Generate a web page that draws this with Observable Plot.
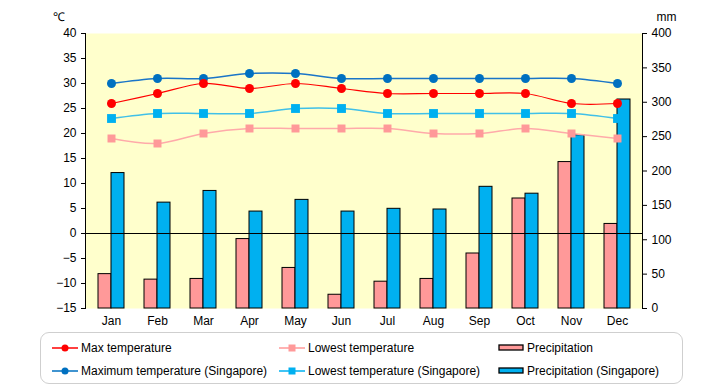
<!DOCTYPE html>
<html><head><meta charset="utf-8">
<script src="https://cdn.jsdelivr.net/npm/d3@7"></script>
<script src="https://cdn.jsdelivr.net/npm/@observablehq/plot@0.6"></script>
<style>
body{margin:0;background:#fff;font-family:"Liberation Sans",Arial,sans-serif;}
#wrap{position:relative;width:720px;height:385px;}
#legend{position:absolute;left:40px;top:332px;width:643px;height:52px;border:1.5px solid #cfcfcf;border-radius:9px;box-sizing:border-box;font-size:12px;color:#000;}
.li{position:absolute;display:flex;align-items:center;height:16px;white-space:nowrap;}
.li svg{margin-right:3px;}
</style></head>
<body><div id="wrap"><div id="chart"></div><div id="legend"></div></div>
<script>
const months = ["Jan","Feb","Mar","Apr","May","Jun","Jul","Aug","Sep","Oct","Nov","Dec"];
const maxTemp = [26,28,30,29,30,29,28,28,28,28,26,26];
const minTemp = [19,18,20,21,21,21,21,20,20,21,20,19];
const precip = [50,42,43,101,59,20,39,43,80,160,213,123];
const sgMaxTemp = [30,31,31,32,32,31,31,31,31,31,31,30];
const sgMinTemp = [23,24,24,24,25,25,24,24,24,24,24,23];
const sgPrecip = [197,154,171,141,158,141,145,144,177,167,252,304];
const tempTicks = [-15,-10,-5,0,5,10,15,20,25,30,35,40];
const precipTicks = [0,50,100,150,200,250,300,350,400];

const toT = p => -15 + p * 55 / 400;
const fromT = t => Math.round((t + 15) * 400 / 55);

const rows = months.map((m, i) => ({m, max: maxTemp[i], min: minTemp[i], p: precip[i], smax: sgMaxTemp[i], smin: sgMinTemp[i], sp: sgPrecip[i]}));

const C = {max:"#ff0000", min:"#ff9999", minLine:"#ffaaaa", sp:"#00b0f0", smax:"#0070c0", smaxLine:"#1a75c8", smin:"#00b0f0", sminLine:"#40c0e8"};
const curve = "catmull-rom";

const chart = Plot.plot({
  width: 720, height: 330,
  marginLeft: 85, marginRight: 78, marginTop: 33, marginBottom: 22,
  style: {fontFamily: "Liberation Sans, Arial, sans-serif", fontSize: "12px", color: "#000", background: "transparent"},
  x: {type: "band", domain: months, paddingInner: 0.44, paddingOuter: 0.2, label: null},
  y: {domain: [-15, 40], label: null},
  marks: [
    Plot.frame({fill: "#ffffcc"}),
    Plot.barY(rows, {x: "m", y1: -15, y2: d => toT(d.p), fill: C.min, stroke: "#000", strokeWidth: 1, insetRight: 13}),
    Plot.barY(rows, {x: "m", y1: -15, y2: d => toT(d.sp), fill: C.sp, stroke: "#000", strokeWidth: 1, insetLeft: 13}),
    Plot.ruleY([0], {stroke: "#000", strokeWidth: 1}),
    Plot.line(rows, {x: "m", y: "smax", stroke: C.smaxLine, strokeWidth: 1.5, curve}),
    Plot.line(rows, {x: "m", y: "max", stroke: C.max, strokeWidth: 1.2, curve}),
    Plot.line(rows, {x: "m", y: "smin", stroke: C.sminLine, strokeWidth: 1.5, curve}),
    Plot.line(rows, {x: "m", y: "min", stroke: C.minLine, strokeWidth: 1.5, curve}),
    Plot.dot(rows, {x: "m", y: "smax", r: 4.5, fill: C.smax}),
    Plot.dot(rows, {x: "m", y: "max", r: 4.5, fill: C.max}),
    Plot.dot(rows, {x: "m", y: "smin", r: 5, symbol: "square", fill: C.smin}),
    Plot.dot(rows, {x: "m", y: "min", r: 4.5, symbol: "square", fill: C.min}),
    Plot.axisY({anchor: "left", ticks: tempTicks, tickSize: 4, tickPadding: 5, label: null}),
    Plot.axisY({anchor: "right", ticks: precipTicks.map(toT), tickFormat: fromT, tickSize: 4, tickPadding: 5, label: null}),
    Plot.frame({anchor: "left", stroke: "#000"}),
    Plot.frame({anchor: "right", stroke: "#000"}),
    Plot.axisX({tickSize: 0, tickPadding: 8, label: null}),
    Plot.text(["℃"], {frameAnchor: "top-left", dx: -33, dy: -21, fontSize: 12}),
    Plot.text(["mm"], {frameAnchor: "top-right", dx: 34, dy: -21, fontSize: 12})
  ]
});
document.getElementById("chart").appendChild(chart);

const legendItems = [
  {label: "Max temperature", type: "line", color: C.max, shape: "circle", x: 11, y: 7},
  {label: "Lowest temperature", type: "line", color: C.min, shape: "square", x: 238, y: 7},
  {label: "Precipitation", type: "rect", color: C.min, x: 457, y: 7},
  {label: "Maximum temperature (Singapore)", type: "line", color: C.smax, shape: "circle", x: 11, y: 30},
  {label: "Lowest temperature (Singapore)", type: "line", color: C.smin, shape: "square", x: 238, y: 30},
  {label: "Precipitation (Singapore)", type: "rect", color: C.sp, x: 457, y: 30}
];
const lg = document.getElementById("legend");
for (const it of legendItems) {
  const div = document.createElement("div");
  div.className = "li";
  div.style.left = it.x + "px";
  div.style.top = it.y + "px";
  let sw;
  if (it.type === "line") {
    const mk = it.shape === "circle"
      ? `<circle cx="13" cy="8" r="3.5" fill="${it.color}"/>`
      : `<rect x="9.5" y="4.5" width="7" height="7" fill="${it.color}"/>`;
    sw = `<svg width="26" height="16"><line x1="0" y1="8" x2="26" y2="8" stroke="${it.color}" stroke-width="1.5"/>${mk}</svg>`;
  } else {
    sw = `<svg width="26" height="16"><rect x="1" y="5" width="24" height="5" fill="${it.color}" stroke="#000" stroke-width="1.3"/></svg>`;
  }
  div.innerHTML = sw + `<span>${it.label}</span>`;
  lg.appendChild(div);
}
</script></body></html>
